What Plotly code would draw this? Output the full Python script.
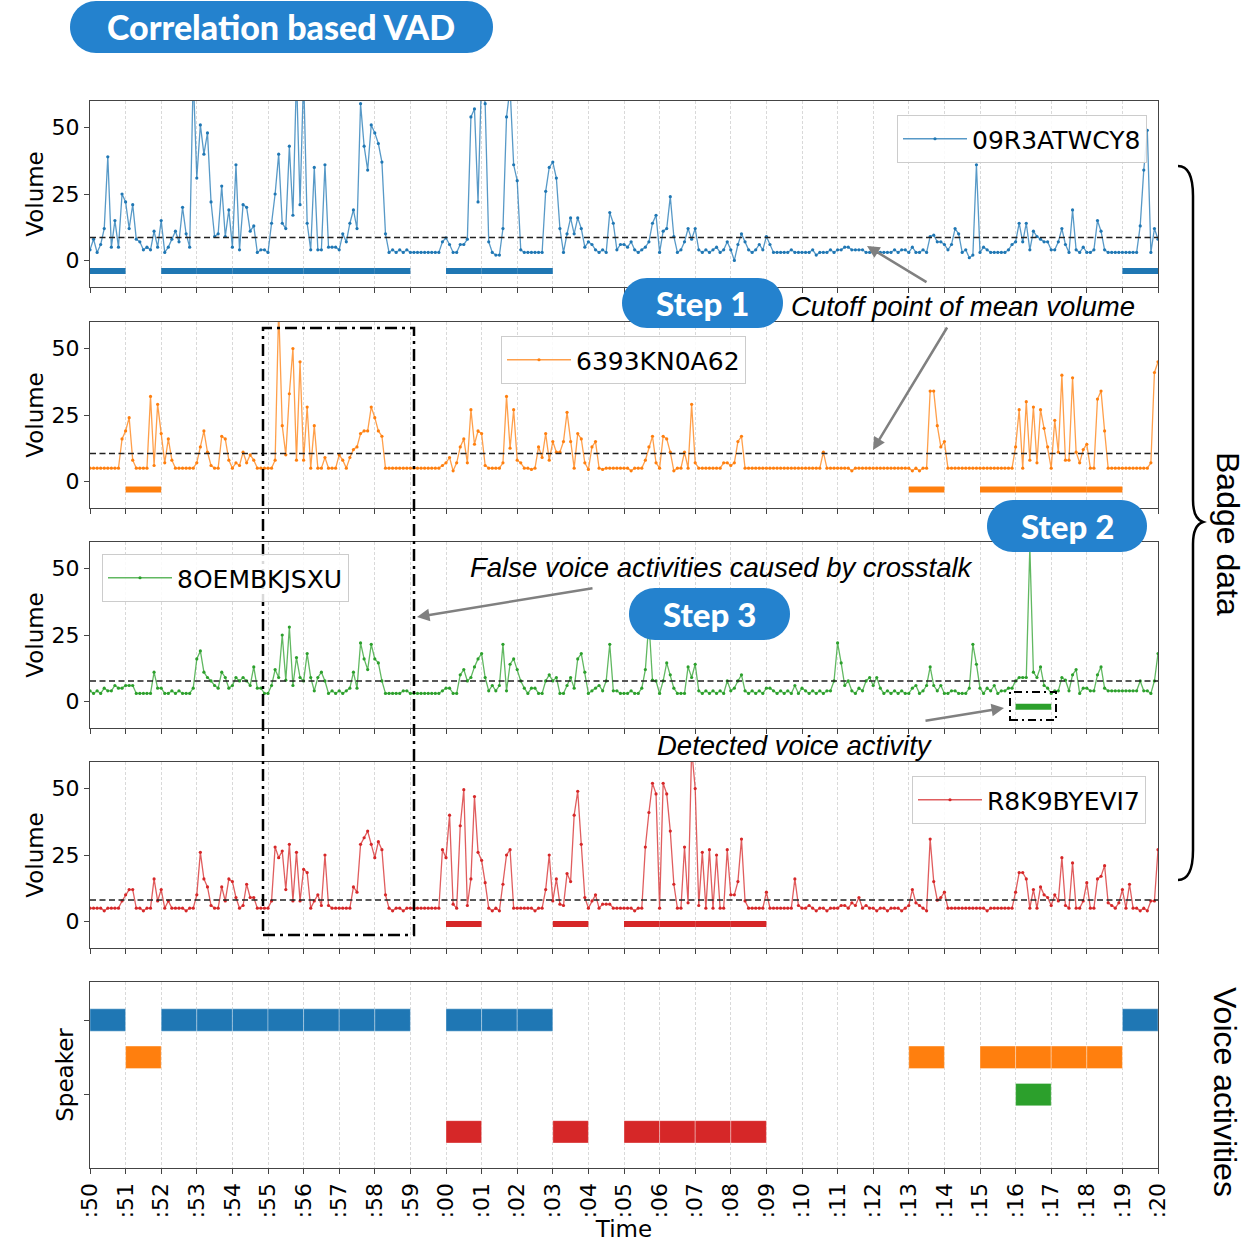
import numpy as np
import plotly.graph_objects as go

# ---------------------------------------------------------------- data
time_labels = [":50", ":51", ":52", ":53", ":54", ":55", ":56", ":57", ":58", ":59",
               ":00", ":01", ":02", ":03", ":04", ":05", ":06", ":07", ":08", ":09",
               ":10", ":11", ":12", ":13", ":14", ":15", ":16", ":17", ":18", ":19", ":20"]
speakers = ["09R3ATWCY8", "6393KN0A62", "8OEMBKJSXU", "R8K9BYEVI7"]
sample_step = 0.1  # seconds between two volume samples

volume_09R3ATWCY8 = [
    4, 8, 3, 6, 12, 39, 5, 15, 5, 25,
    22, 12, 21, 8, 7, 4, 5, 4, 11, 5,
    15, 3, 5, 8, 11, 7, 20, 10, 5, 70,
    31, 51, 40, 48, 22, 9, 10, 28, 9, 19,
    5, 36, 4, 21, 20, 11, 13, 3, 4, 4,
    3, 14, 25, 40, 14, 12, 43, 17, 70, 21,
    70, 14, 4, 35, 4, 4, 36, 5, 5, 5,
    4, 10, 7, 14, 19, 12, 59, 43, 34, 51,
    48, 44, 37, 10, 3, 4, 3, 4, 3, 4,
    3, 3, 3, 3, 3, 3, 3, 3, 3, 7,
    8.5, 6, 3, 3, 6, 6, 8, 54, 57, 22,
    70, 59, 7, 3, 2, 2, 12, 54, 65, 36,
    30, 4, 3, 3, 3, 3, 3, 3, 26, 35,
    37, 31, 12, 3, 10, 16, 10, 16, 12, 5,
    7, 6, 4, 3, 4, 3, 18, 14, 4, 6,
    6, 5, 7, 4, 3, 4, 5, 7, 14, 17,
    3, 11, 12, 24, 9, 3, 4, 7, 12, 8,
    12, 4, 3, 4, 3, 4, 5, 3, 4, 7,
    4, 0, 6, 10, 7, 4, 3, 4, 6, 4,
    9, 6, 3, 3, 3, 3, 3, 4, 3, 3,
    3, 3, 3, 4, 2, 3, 3, 3, 4, 3,
    4, 4, 5, 5, 4, 4, 4, 4, 3, 3,
    3, 3, 3, 3, 3, 3, 4, 3, 4, 4,
    3, 5, 3, 3, 4, 3, 9, 9.5, 7, 7,
    6, 4, 6, 12, 10, 3, 4, 1, 2, 36,
    3, 5, 4, 3, 3, 3, 3, 3, 4, 6,
    7, 14, 7, 14, 4, 11, 9, 8, 7, 7,
    4, 4, 7, 12, 6, 3, 19, 4, 3, 5,
    3, 3, 4, 15, 11, 4, 3, 3, 3, 3,
    3, 3, 3, 3, 3, 13, 34, 49, 3, 12,
    8,
]
volume_6393KN0A62 = [
    5, 5, 5, 5, 5, 5, 5, 5, 5, 16,
    19, 24, 8, 5, 5, 5, 5, 32, 6, 29,
    18, 7, 16, 8, 5, 5, 5, 5, 5, 5,
    7, 13, 19, 11, 6, 5, 5, 17, 16, 8,
    5, 7, 6, 11, 7, 10, 8, 5, 5, 5,
    5, 5, 8, 65, 21, 10, 33, 50, 8, 45,
    8, 28, 5, 21, 5, 5, 9, 5, 5, 5,
    10, 8, 5, 9, 12, 13, 18, 19, 19, 28,
    24, 19, 17, 5, 5, 5, 5, 5, 5, 5,
    5, 5, 5, 5, 5, 5, 5, 5, 5, 6,
    7, 9, 4, 7, 13, 16, 7, 27, 14, 19,
    18, 6, 5, 5, 5, 5, 7, 32, 12.5, 27,
    8, 7, 5, 5, 4.5, 5, 13, 9, 18, 8,
    15, 11, 11, 15, 26, 15, 5, 18, 16, 7,
    4.5, 13, 15, 5, 4.5, 5, 5, 5, 5, 5,
    5, 5, 4, 5, 5, 5, 8, 13, 17, 7,
    5, 17, 16, 11, 4, 5, 5, 11, 5, 29,
    7, 5, 5, 5, 5, 5, 5, 5, 7, 7,
    6, 7, 15, 17, 5, 5, 5, 5, 5, 5,
    5, 5, 5, 5, 5, 5, 5, 5, 5, 5,
    5, 5, 5, 5, 5, 5, 11, 5, 5, 5,
    5, 5, 5, 5, 4, 5, 5, 5, 5, 5,
    5, 5, 5, 5, 5, 5, 5, 5, 5, 5,
    5, 4, 5, 4, 5, 5, 34, 34, 21, 13,
    15, 5, 5, 5, 5, 5, 5, 5, 5, 5,
    5, 5, 5, 5, 5, 5, 5, 5, 5, 5,
    13, 27, 5, 30, 8, 28, 7, 27, 20, 13,
    5, 23, 11, 40, 8, 8, 39, 11, 7, 12,
    14, 5, 5, 31, 34, 19, 5, 5, 5, 5,
    5, 5, 5, 5, 5, 5, 5, 5, 7, 41,
    45,
]
volume_8OEMBKJSXU = [
    4, 3, 4, 3, 5, 4, 4, 6, 5, 5,
    6, 6, 6, 3, 3, 3, 3, 3, 11, 5,
    5, 3, 3, 4, 3, 4, 3, 3, 3, 5,
    16, 19, 11, 9, 7.7, 6, 5, 11, 9, 5,
    6, 9, 7.7, 9, 7.7, 6, 13, 5, 5, 3,
    3, 6, 12, 9, 25, 8, 28, 6, 16.5, 9,
    7.7, 18, 9, 4, 9, 11, 7.7, 3, 4, 3,
    4, 3, 4, 5, 11, 5, 22, 16, 12, 21.5,
    16, 14.5, 7.7, 3, 3, 3, 3, 3, 4, 4,
    3, 3, 3, 3, 3, 3, 3, 3, 3, 4,
    5, 5, 3, 3, 10, 12, 7.7, 9, 13, 16,
    18, 9, 4, 6, 4, 6, 21.5, 4, 14, 16,
    12, 7.7, 5, 3, 5, 5, 3, 3, 7.7, 10,
    7.7, 9, 3, 3, 6, 9, 5, 16, 18, 11,
    3, 4, 5, 6, 4, 7.7, 21.5, 4, 4, 3,
    3, 3, 4, 3, 3, 5, 12, 30, 8, 7.7,
    3, 7.7, 14.5, 10, 5, 3, 3, 3, 13, 9,
    14, 4, 3, 4, 3, 4, 3, 4, 3, 7.7,
    4, 5, 7.7, 10, 4, 3, 4, 3, 4, 3,
    5, 5, 4, 3, 4, 3, 4, 3, 6, 3,
    5, 4, 3, 4, 3, 4, 3, 4, 4, 7.7,
    22, 14.5, 6, 7.7, 4, 3, 5, 4, 7.7, 9,
    6, 9, 5, 3, 4, 3, 4, 3, 4, 3,
    3, 5, 6, 3, 4, 6, 13, 6, 4, 6,
    3, 3, 4, 4, 3, 3, 3, 5, 21.5, 14,
    5, 3, 5, 4, 6, 3, 4, 4, 5, 5,
    7.7, 9, 9, 9, 58, 11, 9, 13, 6, 5,
    3, 4, 4, 9, 8, 4, 10, 12, 3, 5,
    5, 4, 4, 10, 13, 5, 4, 4, 4, 4,
    4, 4, 4, 4, 4, 7.7, 4, 4, 3, 7.7,
    18,
]
volume_R8K9BYEVI7 = [
    5, 5, 5, 5, 4, 5, 5, 5, 5, 7.7,
    10, 12, 12, 5, 5, 4, 5, 5, 16, 7.7,
    12, 5, 7.7, 5, 5, 5, 5, 4, 5, 5,
    10, 26, 16, 13, 6, 5, 5, 13, 7.7, 16,
    15, 9, 5, 6, 14, 9, 9, 5, 5, 5,
    5, 7.7, 28, 24, 26.5, 12, 29, 7.7, 26, 7.7,
    19.6, 18.4, 5, 7.7, 10, 6, 25, 6, 5, 5,
    5, 5, 5, 5, 13, 11, 29, 31.5, 34, 29,
    24, 30, 27, 10, 5, 4, 5, 5, 4, 5,
    5, 5, 5, 5, 5, 5, 5, 5, 5, 27,
    24, 40, 6.5, 5, 36, 49.6, 6, 16, 47, 26,
    23, 14.6, 5, 4, 5, 4, 14, 25, 27, 5,
    5, 5, 5, 5, 5, 4, 5, 5, 12, 25,
    7.7, 16, 6.5, 6, 18, 15, 40, 49, 29, 9,
    5, 7.7, 10, 5, 6.5, 6.5, 6.5, 5, 5, 5,
    5, 5, 5, 4, 5, 5, 28, 41, 52, 48,
    5, 52, 48, 34, 14, 5, 5, 28, 7, 65,
    50, 6, 26, 5, 27, 5, 25, 5, 5, 27,
    10, 10, 15, 31, 7.7, 5, 5, 5, 5, 5,
    11, 5, 5, 5, 5, 5, 5, 5, 16, 6,
    5, 5, 6, 5, 4, 5, 5, 4, 5, 5,
    5, 6, 6, 5, 7, 6, 9, 5, 6, 5,
    5, 4, 5, 5, 4, 5, 5, 5, 4, 5,
    6, 12, 7, 6, 5, 4, 31, 15, 8, 9,
    11, 5, 5, 5, 5, 5, 5, 5, 5, 5,
    5, 5, 4, 5, 5, 5, 5, 5, 5, 5,
    11, 18.4, 18.4, 16, 5, 12, 5, 13, 10, 9,
    6, 10, 7.7, 24, 6, 5, 22, 5, 5, 7.7,
    14.6, 5, 5, 16, 17, 21, 7, 6, 5, 7,
    12, 5, 14, 5, 5, 4, 5, 4, 7.7, 7.7,
    27,
]

# mean-volume cutoff per badge
mean_cutoff = [8.6, 10.5, 7.7, 8.1]

# start second of every one-second window detected as speech
active_09R3ATWCY8 = [0, 2, 3, 4, 5, 6, 7, 8, 10, 11, 12, 29]
active_6393KN0A62 = [1, 23, 25, 26, 27, 28]
active_8OEMBKJSXU = [26]
active_R8K9BYEVI7 = [10, 13, 15, 16, 17, 18]

volumes = [volume_09R3ATWCY8, volume_6393KN0A62, volume_8OEMBKJSXU, volume_R8K9BYEVI7]
actives = [active_09R3ATWCY8, active_6393KN0A62, active_8OEMBKJSXU, active_R8K9BYEVI7]

# ---------------------------------------------------------------- style
W, H = 1250, 1242
colors = ["#1f77b4", "#ff7f0e", "#2ca02c", "#d62728"]
line_colors = ["rgba(31,119,180,0.75)", "rgba(255,127,14,0.75)",
               "rgba(44,160,44,0.75)", "rgba(214,39,40,0.75)"]
badge_blue = "#2482ce"
activity_level = [-4, -3, -2, -1]      # y of the detected-activity strip in each volume panel
speaker_row = [0, 1, 2, 3]             # row in the speaker panel
plot_left, plot_right = 90, 1158
panel_tops = [101, 322, 542, 762, 982]
panel_h = 186
FONT = "DejaVu Sans"


def fx(x):
    return x / W


def fy(y):
    return 1 - y / H


def P(x, y):
    return f"{fx(x):.5f},{fy(y):.5f}"


def pill_path(x0, y0, x1, y1):
    r = (y1 - y0) / 2
    yc = (y0 + y1) / 2
    k = 0.5523 * r
    return (f"M{P(x0 + r, y0)} L{P(x1 - r, y0)} "
            f"C{P(x1 - r + k, y0)} {P(x1, yc - k)} {P(x1, yc)} "
            f"C{P(x1, yc + k)} {P(x1 - r + k, y1)} {P(x1 - r, y1)} "
            f"L{P(x0 + r, y1)} "
            f"C{P(x0 + r - k, y1)} {P(x0, yc + k)} {P(x0, yc)} "
            f"C{P(x0, yc - k)} {P(x0 + r - k, y0)} {P(x0 + r, y0)} Z")


fig = go.Figure()

# ---------------------------------------------------------------- volume panels
for i, (name, vol, act) in enumerate(zip(speakers, volumes, actives)):
    xa = "x" if i == 0 else f"x{i + 1}"
    ya = "y" if i == 0 else f"y{i + 1}"
    leg = "legend" if i == 0 else f"legend{i + 1}"
    t = np.arange(len(vol)) * sample_step
    fig.add_trace(go.Scatter(
        x=t, y=vol, mode="lines+markers", name=name, legend=leg,
        line=dict(color=line_colors[i], width=1.3),
        marker=dict(color=colors[i], size=3.2),
        xaxis=xa, yaxis=ya, showlegend=True))
    fig.add_trace(go.Scatter(
        x=[t[0], t[-1]], y=[mean_cutoff[i]] * 2, mode="lines",
        line=dict(color="#222222", width=1.5, dash="6px,3.5px"),
        xaxis=xa, yaxis=ya, showlegend=False, hoverinfo="skip"))
    seg_x, seg_y = [], []
    for s in act:
        seg_x += [s, s + 1, None]
        seg_y += [activity_level[i]] * 2 + [None]
    fig.add_trace(go.Scatter(
        x=seg_x, y=seg_y, mode="lines", line=dict(color=colors[i], width=6),
        xaxis=xa, yaxis=ya, showlegend=False, hoverinfo="skip"))

# ---------------------------------------------------------------- speaker panel
for i, act in enumerate(actives):
    fig.add_trace(go.Bar(
        orientation="h", base=act, x=[1] * len(act), y=[speaker_row[i]] * len(act),
        width=0.6, marker=dict(color=colors[i], line=dict(color="rgba(255,255,255,0.35)", width=1)),
        xaxis="x5", yaxis="y5", showlegend=False, hoverinfo="skip"))

# ---------------------------------------------------------------- axes
axis_common = dict(showline=True, linecolor="#444444", linewidth=1.3, mirror=True,
                   ticks="outside", ticklen=5, tickcolor="#444444", zeroline=False,
                   automargin=False,
                   tickfont=dict(size=22, family=FONT, color="black"))
layout_axes = {}
for j in range(5):
    top = panel_tops[j]
    dom_y = [fy(top + panel_h), fy(top)]
    xk = "xaxis" if j == 0 else f"xaxis{j + 1}"
    yk = "yaxis" if j == 0 else f"yaxis{j + 1}"
    xa = dict(axis_common, domain=[fx(plot_left), fx(plot_right)], range=[0, 30],
              anchor="y" if j == 0 else f"y{j + 1}",
              tickmode="array", tickvals=list(range(len(time_labels))),
              ticktext=time_labels, showticklabels=(j == 4),
              showgrid=True, gridcolor="#d9d9d9", gridwidth=1, griddash="3px,2px")
    if j > 0:
        xa["matches"] = "x"
    if j == 4:
        xa.update(tickangle=-90,
                  title=dict(text="Time", font=dict(size=23, family=FONT, color="black"), standoff=6))
    layout_axes[xk] = xa
    if j < 4:
        ya = dict(axis_common, domain=dom_y, range=[-10, 60], tickvals=[0, 25, 50],
                  anchor="x" if j == 0 else f"x{j + 1}", showgrid=False,
                  title=dict(text="Volume", font=dict(size=23, family=FONT, color="black"), standoff=1))
    else:
        ya = dict(axis_common, domain=dom_y, range=[3.97, -1.02], tickvals=[0, 2],
                  showticklabels=False, anchor="x5", showgrid=False,
                  title=dict(text="Speaker", font=dict(size=23, family=FONT, color="black"), standoff=3))
    layout_axes[yk] = ya

legend_common = dict(bgcolor="rgba(255,255,255,0.85)", bordercolor="#cccccc", borderwidth=1,
                     font=dict(size=25, family=FONT, color="black"), itemwidth=64, yanchor="top")
legends = {
    "legend": dict(legend_common, x=fx(1147), xanchor="right", y=fy(115)),
    "legend2": dict(legend_common, x=fx(501), xanchor="left", y=fy(336)),
    "legend3": dict(legend_common, x=fx(102), xanchor="left", y=fy(554)),
    "legend4": dict(legend_common, x=fx(1146), xanchor="right", y=fy(776)),
}

# ---------------------------------------------------------------- shapes
shapes = []
for (x0, y0, x1, y1) in [(70, 1, 493, 53), (622, 278, 783, 328),
                         (987, 500, 1147, 552), (629, 588, 790, 640)]:
    shapes.append(dict(type="path", xref="paper", yref="paper", path=pill_path(x0, y0, x1, y1),
                       fillcolor=badge_blue, line=dict(width=0), layer="above"))
# crosstalk window and detected activity window
shapes.append(dict(type="rect", xref="paper", yref="paper",
                   x0=fx(263), x1=fx(414), y0=fy(935), y1=fy(328),
                   line=dict(color="black", width=2.5, dash="12px,5px,3px,5px"), layer="above"))
shapes.append(dict(type="rect", xref="paper", yref="paper",
                   x0=fx(1010), x1=fx(1056), y0=fy(720), y1=fy(692),
                   line=dict(color="black", width=2, dash="8px,4px,2px,4px"), layer="above"))
# curly brace grouping the badge panels
brace = (f"M{P(1178, 166)} C{P(1188, 166)} {P(1193, 176)} {P(1193, 196)} "
         f"L{P(1193, 500)} C{P(1193, 514)} {P(1197, 520)} {P(1203, 522)} "
         f"C{P(1197, 524)} {P(1193, 530)} {P(1193, 544)} "
         f"L{P(1193, 850)} C{P(1193, 870)} {P(1188, 880)} {P(1178, 880)}")
shapes.append(dict(type="path", xref="paper", yref="paper", path=brace,
                   line=dict(color="black", width=2.5)))

# ---------------------------------------------------------------- annotations
ann = []
for text, cx, cy, size in [("Correlation based VAD", 281, 27, 34), ("Step 1", 702, 303, 33),
                           ("Step 2", 1067, 526, 33), ("Step 3", 709, 614, 33)]:
    ann.append(dict(text=text, x=fx(cx), y=fy(cy), xref="paper", yref="paper",
                    showarrow=False, font=dict(family="Lato", size=size, color="white", weight=900),
                    xanchor="center", yanchor="middle"))
note_font = dict(family="Liberation Sans", size=27.5, color="black")
for text, cx, cy in [("Cutoff point of mean volume", 963, 306),
                     ("False voice activities caused by crosstalk", 721, 567),
                     ("Detected voice activity", 795, 745)]:
    ann.append(dict(text=f"<i>{text}</i>", x=fx(cx), y=fy(cy), xref="paper", yref="paper",
                    showarrow=False, font=note_font, xanchor="center", yanchor="middle"))
for (tx, ty, hx, hy) in [(928, 283, 867, 246), (948, 326, 873, 450),
                         (594, 588, 417, 617), (924, 721, 1004, 708)]:
    ann.append(dict(text="", x=fx(hx), y=fy(hy), xref="paper", yref="paper",
                    ax=tx - hx, ay=ty - hy, axref="pixel", ayref="pixel",
                    showarrow=True, arrowhead=2, arrowsize=1, arrowwidth=2.5, arrowcolor="#808080"))
side_font = dict(family="Liberation Sans", size=32, color="black")
ann.append(dict(text="Badge data", x=fx(1228), y=fy(534), xref="paper", yref="paper",
                showarrow=False, textangle=90, font=side_font,
                xanchor="center", yanchor="middle"))
ann.append(dict(text="Voice activities", x=fx(1225), y=fy(1092), xref="paper", yref="paper",
                showarrow=False, textangle=90, font=side_font,
                xanchor="center", yanchor="middle"))

fig.update_layout(
    width=W, height=H, margin=dict(l=0, r=0, t=0, b=0, autoexpand=False),
    paper_bgcolor="white", plot_bgcolor="white",
    font=dict(family=FONT, color="black"),
    barmode="overlay", shapes=shapes, annotations=ann,
    **layout_axes, **legends,
)

fig.write_html("out.html")
